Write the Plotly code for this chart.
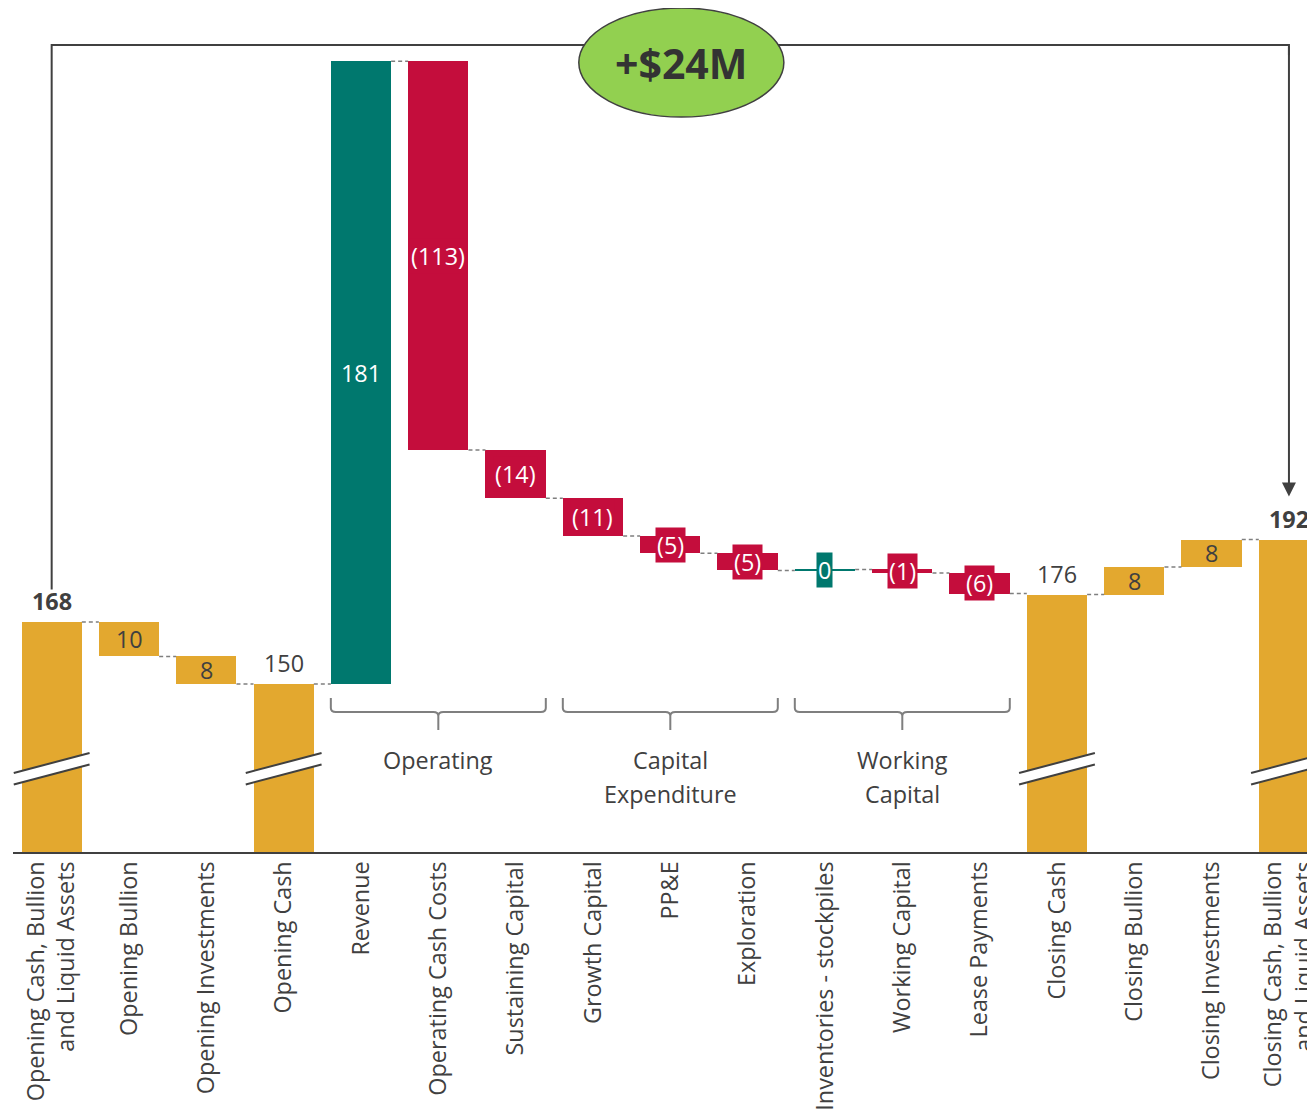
import plotly.graph_objects as go

# ---------------- data ----------------
categories = [
    "Opening Cash, Bullion<br>and Liquid Assets", "Opening Bullion", "Opening Investments",
    "Opening Cash", "Revenue", "Operating Cash Costs", "Sustaining Capital",
    "Growth Capital", "PP&E", "Exploration", "Inventories - stockpiles",
    "Working Capital", "Lease Payments", "Closing Cash", "Closing Bullion",
    "Closing Investments", "Closing Cash, Bullion<br>and Liquid Assets",
]
kinds = ["total", "out", "out", "total", "flow", "flow", "flow", "flow", "flow",
         "flow", "flow", "flow", "flow", "total", "in", "in", "total"]
values = [168, 10, 8, 150, 181, -113, -14, -11, -5, -5, 0.3, -1, -6, 176, 8, 8, 192]
bold_labels = [0, 16]
groups = ["Operating", "Capital<br>Expenditure", "Working<br>Capital"]
group_first = [4, 7, 10]
group_last = [6, 9, 12]

# ---------------- styling ----------------
GOLD = "#E3A82F"
TEAL = "#00786E"
RED = "#C40D3C"
DARK = "#404040"
FONT = "Open Sans"
FS = 23.4
OFF = 8               # page body margin offset
W, H = 1315 - OFF, 1109 - OFF
AXIS_PY = 852         # page y of x-axis line
ML = 13.34 - OFF
MB = H - (AXIS_PY - OFF)
PPU = 3.44            # pixels per unit (y)
Y0 = 101.16           # value at x-axis line
XPU = 77.31           # pixels per category
HW = 0.39             # half bar width
plot_h = H - MB
YR = [Y0, Y0 + plot_h / PPU]
XR = [-0.5, -0.5 + (W - ML) / XPU]


def pv(py):   # page pixel y -> value
    return Y0 + (AXIS_PY - py) / PPU


def px(pxx):  # page pixel x -> category coordinate
    return (pxx - 52) / XPU


# ---------------- compute waterfall ----------------
bases, heights, colors, levels = [], [], [], []
level = 0
for k, v in zip(kinds, values):
    if k == "total":
        bases.append(0); heights.append(v); colors.append(GOLD); level = v
    elif k == "out":
        bases.append(level - v); heights.append(v); colors.append(GOLD); level -= v
    elif k == "in":
        bases.append(level); heights.append(v); colors.append(GOLD); level += v
    else:
        bases.append(level); heights.append(v)
        colors.append(TEAL if v >= 0 else RED); level += v
    levels.append(level)

xs = list(range(len(categories)))

fig = go.Figure()
fig.add_trace(go.Bar(
    x=xs, y=heights, base=bases, width=2 * HW,
    marker=dict(color=colors, line=dict(width=0)),
    hoverinfo="skip", showlegend=False,
))

# connectors
cx, cy = [], []
for i in range(len(xs) - 1):
    cx += [i + HW, i + 1 - HW, None]
    cy += [levels[i], levels[i], None]
fig.add_trace(go.Scatter(x=cx, y=cy, mode="lines",
                         line=dict(color="#7F7F7F", width=1.5, dash="4px,3px"),
                         hoverinfo="skip", showlegend=False))

annotations = []
shapes = []

# bar labels
for i, (k, v) in enumerate(zip(kinds, values)):
    top = bases[i] + heights[i]
    if k == "total":
        txt = f"{v}"
        if i in bold_labels:
            txt = f"<b>{v}</b>"
        annotations.append(dict(x=i, y=top, text=txt, showarrow=False, yanchor="middle",
                                yshift=21, font=dict(family=FONT, size=FS, color=DARK)))
    elif k in ("in", "out"):
        annotations.append(dict(x=i, y=bases[i] + heights[i] / 2, text=f"{v}", showarrow=False,
                                font=dict(family=FONT, size=FS, color=DARK)))
    else:
        r = round(abs(v))
        txt = f"({r})" if v < 0 else f"{r}"
        annotations.append(dict(x=i, y=bases[i] + heights[i] / 2, text=txt, showarrow=False,
                                bgcolor=colors[i], borderpad=1,
                                font=dict(family=FONT, size=FS, color="white")))

# axis break marks on total bars
t_c, b_c, rise = pv(763), pv(774.5), 10 / PPU
for i, k in enumerate(kinds):
    if k != "total":
        continue
    xl, xr = i - 0.49, i + 0.49
    shapes.append(dict(type="path", xref="x", yref="y", layer="above",
                       path=f"M {xl},{t_c - rise} L {xr},{t_c + rise} L {xr},{b_c + rise} L {xl},{b_c - rise} Z",
                       fillcolor="white", line=dict(width=0)))
    for c in (t_c, b_c):
        shapes.append(dict(type="line", xref="x", yref="y", layer="above",
                           x0=xl, y0=c - rise, x1=xr, y1=c + rise,
                           line=dict(color=DARK, width=2)))

# group brackets
yb_top, yb_mid, yb_tip = pv(698), pv(712), pv(730)
cr = 5 / XPU
cry = 4 / PPU
for g, a, b in zip(groups, group_first, group_last):
    x0, x1 = a - HW, b + HW
    xc = (x0 + x1) / 2
    path = (f"M {x0},{yb_top} L {x0},{yb_mid + cry} Q {x0},{yb_mid} {x0 + cr},{yb_mid} "
            f"L {xc - cr},{yb_mid} Q {xc},{yb_mid} {xc},{yb_mid - cry} L {xc},{yb_tip} "
            f"M {xc},{yb_mid - cry} Q {xc},{yb_mid} {xc + cr},{yb_mid} "
            f"L {x1 - cr},{yb_mid} Q {x1},{yb_mid} {x1},{yb_mid + cry} L {x1},{yb_top}")
    shapes.append(dict(type="path", xref="x", yref="y", path=path,
                       line=dict(color="#7F7F7F", width=2)))
    for j, line in enumerate(g.split("<br>")):
        annotations.append(dict(x=xc, y=pv(760 + 34 * j), text=line, showarrow=False,
                                yanchor="middle",
                                font=dict(family=FONT, size=FS, color=DARK)))

# top arrow from opening to closing
first, last = 0, len(xs) - 1
y_line = pv(45)
shapes.append(dict(type="path", xref="x", yref="y",
                   path=f"M {first},{levels[first] + 9.5} L {first},{y_line} L {last},{y_line} L {last},{y_line - 3}",
                   line=dict(color=DARK, width=2)))
annotations.append(dict(x=last, y=levels[last] + 12.5, ax=last, ay=y_line,
                        axref="x", ayref="y", xref="x", yref="y", text="",
                        showarrow=True, arrowhead=2, arrowsize=1.4, arrowwidth=2,
                        arrowcolor=DARK))

# change ellipse
delta = values[-1] - values[0]
shapes.append(dict(type="circle", xref="x", yref="y", layer="above",
                   x0=px(579), x1=px(784), y0=pv(117), y1=pv(8),
                   fillcolor="#92D050", line=dict(color=DARK, width=1.5)))
annotations.append(dict(x=(px(579) + px(784)) / 2, y=(pv(117) + pv(8)) / 2,
                        text=f"<b>+${delta}M</b>", showarrow=False,
                        font=dict(family=FONT, size=41, color="#333333")))

fig.update_layout(
    width=W, height=H,
    margin=dict(l=ML, r=0, t=0, b=MB, autoexpand=False),
    plot_bgcolor="white", paper_bgcolor="white",
    bargap=0, barmode="overlay",
    shapes=shapes, annotations=annotations,
    xaxis=dict(range=XR, tickmode="array", tickvals=xs, ticktext=categories,
               tickangle=-90, showgrid=False, zeroline=False, ticks="",
               showline=True, linecolor=DARK, linewidth=2, ticklabelstandoff=-2,
               ticklabeloverflow="allow",
               tickfont=dict(family=FONT, size=FS, color=DARK), fixedrange=True),
    yaxis=dict(range=YR, visible=False, showgrid=False, zeroline=False, fixedrange=True),
    showlegend=False,
)

fig.write_html("out.html")
